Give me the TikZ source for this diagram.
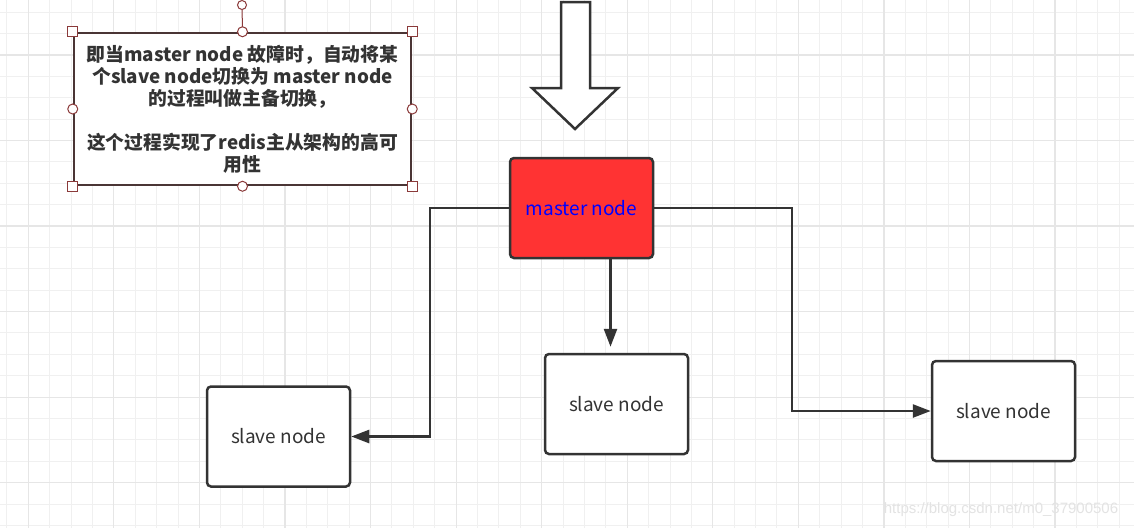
\documentclass[tikz,border=0pt]{standalone}
\usepackage{fontspec}
\setmainfont{Noto Sans CJK SC}
\newfontfamily\wmfont{Liberation Sans}
\usetikzlibrary{arrows.meta}
\definecolor{inkgray}{HTML}{333333}
\definecolor{masterred}{HTML}{FF3333}
\definecolor{handlered}{HTML}{8B3A3A}
\definecolor{noteline}{HTML}{4A3535}
\definecolor{gridminor}{HTML}{F0F0F0}
\definecolor{gridmajor}{HTML}{E6E6E6}
\tikzset{
  box/.style={draw=inkgray, line width=2.5pt, rounded corners=4pt,
    minimum width=143pt, minimum height=100pt, text=inkgray,
    font=\fontsize{19}{22}\selectfont},
  slavebox/.style={box, fill=white},
  masterbox/.style={box, fill=masterred, text=blue},
  notebox/.style={draw=noteline, line width=2.5pt, fill=white,
    minimum width=337pt, minimum height=152pt, inner sep=0pt,
    align=center, text=inkgray, font=\bfseries\fontsize{18.8}{22}\selectfont},
  handlesq/.style={draw=handlered, fill=white, line width=1pt,
    minimum size=10pt, inner sep=0pt},
  handlecirc/.style={draw=handlered, fill=white, line width=1pt,
    circle, minimum size=10pt, inner sep=0pt},
  link/.style={draw=inkgray, line width=2.6pt, -{Triangle[length=18pt,width=13pt]}},
}
\begin{document}
\begin{tikzpicture}[x=1pt,y=-1pt]
\useasboundingbox (0,0) rectangle (1134,528);
\fill[white] (0,0) rectangle (1134,528);
% grid
\foreach \i in {0,...,52}
  \draw[gridminor, line width=1pt] (6.9+21.39*\i,0) -- (6.9+21.39*\i,528);
\foreach \i in {0,...,24}
  \draw[gridminor, line width=1pt] (0,12.1+21.39*\i) -- (1134,12.1+21.39*\i);
\foreach \i in {0,...,13}
  \draw[gridmajor, line width=1.2pt] (28.3+85.56*\i,0) -- (28.3+85.56*\i,528);
\foreach \i in {0,...,5}
  \draw[gridmajor, line width=1.2pt] (0,54.9+85.56*\i) -- (1134,54.9+85.56*\i);

% note box (selected)
\node[notebox] (note) at (242.5,109) {即当master node 故障时，自动将某\\个slave node切换为 master node\\的过程叫做主备切换，\\[22pt]这个过程实现了redis主从架构的高可\\用性};
\node[handlecirc, minimum size=9pt] (rot) at (242,5) {};
\draw[handlered, line width=1pt] (rot) -- (note.north);
\foreach \a in {north west,north east,south west,south east}
  \node[handlesq] at (note.\a) {};
\foreach \a in {north,south,east,west}
  \node[handlecirc] at (note.\a) {};

% hollow arrow
\draw[inkgray, line width=2.5pt, fill=white, line join=miter]
  (561,2) -- (561,88) -- (532,88) -- (575,129) -- (618,88) -- (590,88) -- (590,2) -- cycle;

% nodes
\node[masterbox] (master) at (581.5,208) {master node};
\node[slavebox] (slave1) at (278.5,436.5) {slave node};
\node[slavebox] (slave2) at (616.5,404) {slave node};
\node[slavebox] (slave3) at (1003.5,411) {slave node};

% connectors
\draw[link] (master) -- ++(-151.5,0) |- (slave1);
\draw[link, shorten >=6pt] ([xshift=29pt]master.south) -- ([xshift=-6pt]slave2.north);
\draw[link] (master) -- ++(210.5,0) |- (slave3);

\node[text=gray!22, font=\wmfont\fontsize{15}{15}\selectfont] (mark) at (1001,510) {https://blog.csdn.net/m0\_37900506};
\end{tikzpicture}
\end{document}
